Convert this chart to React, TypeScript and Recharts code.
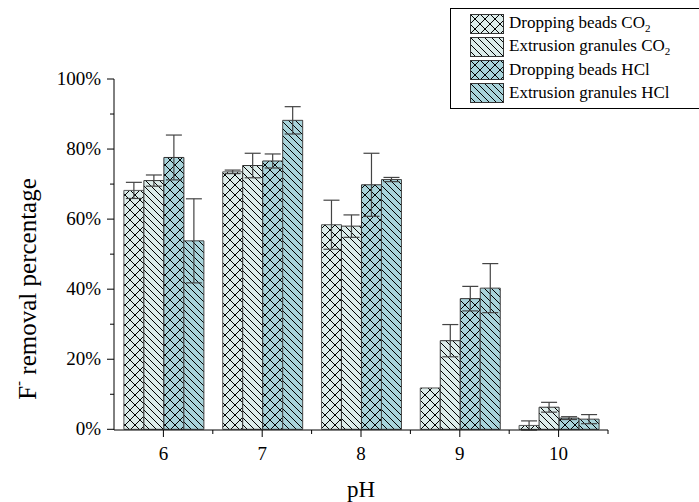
import React from "react";
import { Bar, BarChart, ErrorBar, XAxis, YAxis } from "recharts";

const categories = ["6", "7", "8", "9", "10"];
const dropCO2 = [68.2, 73.5, 58.4, 11.8, 1.1];
const dropCO2Err = [2.3, 0.5, 7, 0, 1.3];
const extCO2 = [71, 75.3, 58, 25.3, 6.3];
const extCO2Err = [1.6, 3.5, 3.2, 4.6, 1.4];
const dropHCl = [77.6, 76.6, 69.8, 37.3, 3.2];
const dropHClErr = [6.4, 2, 9, 3.5, 0.4];
const extHCl = [53.8, 88.2, 71.3, 40.3, 2.9];
const extHClErr = [12, 3.9, 0.6, 7, 1.3];
const yTicks = [0, 10, 20, 30, 40, 50, 60, 70, 80, 90, 100];

const data = categories.map((ph, i) => ({
  ph,
  dropCO2: dropCO2[i],
  dropCO2Err: dropCO2Err[i],
  extCO2: extCO2[i],
  extCO2Err: extCO2Err[i],
  dropHCl: dropHCl[i],
  dropHClErr: dropHClErr[i],
  extHCl: extHCl[i],
  extHClErr: extHClErr[i],
}));

const FONT = "'Liberation Serif', 'Times New Roman', serif";
const CO2_FILL = "#dcecea";
const HCL_FILL = "#a8d3da";
const BAND = (699 - 114 - 91) / 5;

const legendItems = [
  { fill: "url(#crossCO2)", label: "Dropping beads CO", sub: "2" },
  { fill: "url(#diagCO2)", label: "Extrusion granules CO", sub: "2" },
  { fill: "url(#crossHCl)", label: "Dropping beads HCl", sub: "" },
  { fill: "url(#diagHCl)", label: "Extrusion granules HCl", sub: "" },
];

const Patterns = () => (
  <svg width={0} height={0} style={{ position: "absolute" }}>
    <defs>
      {[
        ["crossCO2", CO2_FILL],
        ["crossHCl", HCL_FILL],
      ].map(([id, c]) => (
        <pattern key={id} id={id} width={10} height={10} patternUnits="userSpaceOnUse">
          <rect width={10} height={10} fill={c} />
          <path d="M0,0 L10,10 M10,0 L0,10" stroke="#000" strokeWidth={1} />
        </pattern>
      ))}
      {[
        ["diagCO2", CO2_FILL],
        ["diagHCl", HCL_FILL],
      ].map(([id, c]) => (
        <pattern key={id} id={id} width={7} height={7} patternUnits="userSpaceOnUse">
          <rect width={7} height={7} fill={c} />
          <path d="M0,0 L7,7 M-1,6 L1,8 M6,-1 L8,1" stroke="#000" strokeWidth={1} />
        </pattern>
      ))}
    </defs>
  </svg>
);

const YTick = (props: any) => {
  const { x, y, payload } = props;
  const ax = x + 8;
  const major = payload.value % 20 === 0;
  return (
    <g>
      <line x1={ax} x2={ax - (major ? 7 : 4)} y1={y} y2={y} stroke="#000" />
      {major && (
        <text x={ax - 13} y={y} dy={6} textAnchor="end" fontSize={19} fontFamily={FONT} fill="#000">
          {payload.value}%
        </text>
      )}
    </g>
  );
};

const XTick = (props: any) => {
  const { x, y, payload } = props;
  const ay = y - 8;
  return (
    <g>
      <line x1={x} x2={x} y1={ay} y2={ay + 7} stroke="#000" />
      <line x1={x + BAND / 2} x2={x + BAND / 2} y1={ay} y2={ay + 4} stroke="#000" />
      <text x={x} y={ay + 30} textAnchor="middle" fontSize={19} fontFamily={FONT} fill="#000">
        {payload.value}
      </text>
    </g>
  );
};

const LegendBox = () => (
  <div
    style={{
      position: "absolute",
      left: 450,
      top: 8,
      border: "1px solid #000",
      borderRight: "none",
      width: 260,
      padding: "3px 0 4px 19px",
      fontFamily: FONT,
      fontSize: 17,
      boxSizing: "border-box",
      background: "#fff",
    }}
  >
    {legendItems.map((it) => (
      <div key={it.label} style={{ display: "flex", alignItems: "center", height: 23 }}>
        <svg width={34} height={20} style={{ marginRight: 5 }}>
          <rect x={0.5} y={0.5} width={33} height={19} fill={it.fill} stroke="#333" />
        </svg>
        <span style={{ whiteSpace: "nowrap" }}>
          {it.label}
          {it.sub && <sub style={{ fontSize: 11 }}>{it.sub}</sub>}
        </span>
      </div>
    ))}
  </div>
);

export default function App() {
  return (
    <div style={{ position: "absolute", left: 0, top: 0, width: 699, height: 502, overflow: "hidden", background: "#fff" }}>
      <Patterns />
      <BarChart
        width={699}
        height={502}
        data={data}
        margin={{ top: 79, right: 91, bottom: 32, left: 54 }}
        barCategoryGap="10%"
        barGap={0}
      >
        <XAxis
          dataKey="ph"
          height={40}
          tickSize={6}
          tickMargin={2}
          tickLine={false}
          axisLine={{ stroke: "#000" }}
          tick={<XTick />}
          label={{
            content: () => (
              <text x={361} y={497} textAnchor="middle" fontSize={23} fontFamily={FONT} fill="#000">
                pH
              </text>
            ),
          }}
        />
        <YAxis
          width={60}
          domain={[0, 100]}
          ticks={yTicks}
          interval={0}
          tickSize={6}
          tickMargin={2}
          tickLine={false}
          axisLine={{ stroke: "#000" }}
          tick={<YTick />}
          label={{
            content: () => (
              <text
                x={27}
                y={289}
                transform="rotate(-90, 27, 289)"
                textAnchor="middle"
                dominantBaseline="central"
                fontSize={25}
                fontFamily={FONT}
                fill="#000"
              >
                F<tspan dy={-9} fontSize={15}>-</tspan>
                <tspan dy={9}> removal percentage</tspan>
              </text>
            ),
          }}
        />
        <Bar dataKey="dropCO2" fill="url(#crossCO2)" stroke="#555" isAnimationActive={false}>
          <ErrorBar dataKey="dropCO2Err" width={8} stroke="#444" strokeWidth={1.2} />
        </Bar>
        <Bar dataKey="extCO2" fill="url(#diagCO2)" stroke="#333" isAnimationActive={false}>
          <ErrorBar dataKey="extCO2Err" width={8} stroke="#444" strokeWidth={1.2} />
        </Bar>
        <Bar dataKey="dropHCl" fill="url(#crossHCl)" stroke="#333" isAnimationActive={false}>
          <ErrorBar dataKey="dropHClErr" width={8} stroke="#444" strokeWidth={1.2} />
        </Bar>
        <Bar dataKey="extHCl" fill="url(#diagHCl)" stroke="#444" isAnimationActive={false}>
          <ErrorBar dataKey="extHClErr" width={8} stroke="#444" strokeWidth={1.2} />
        </Bar>
      </BarChart>
      <LegendBox />
    </div>
  );
}
